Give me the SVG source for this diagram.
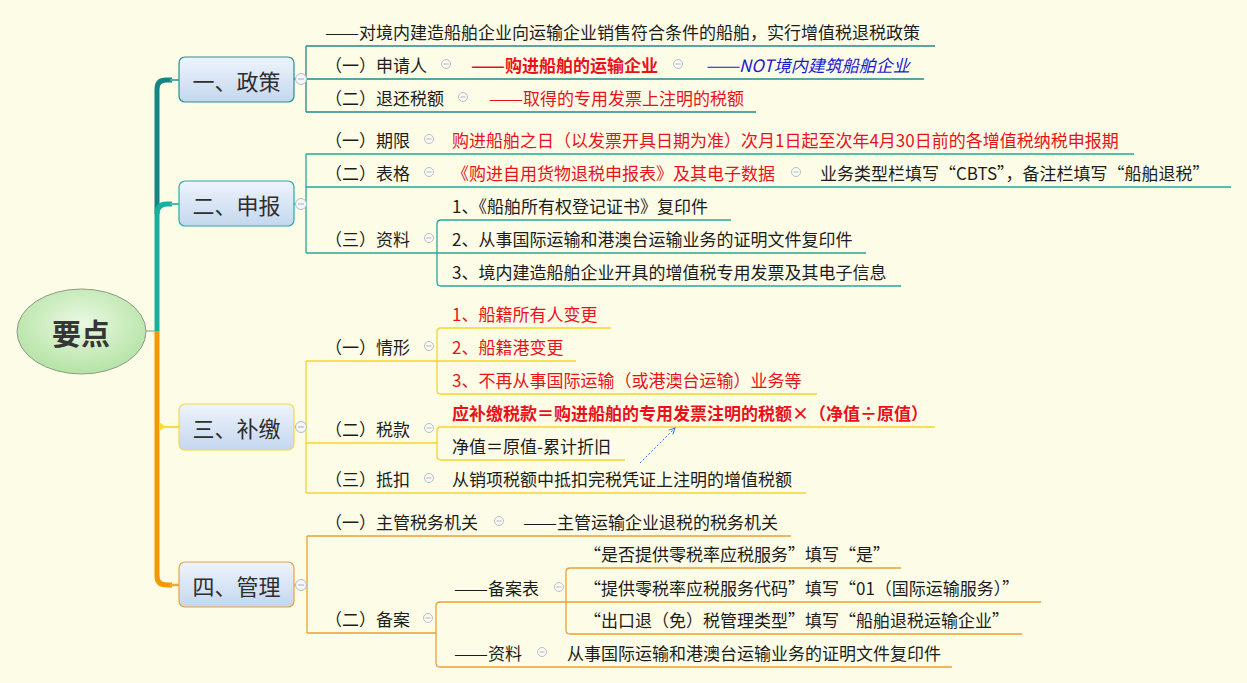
<svg xmlns="http://www.w3.org/2000/svg" width="1247" height="683" viewBox="0 0 1247 683">
<defs>
<linearGradient id="boxg" x1="0" y1="0" x2="0" y2="1"><stop offset="0" stop-color="#EEF4FC"/><stop offset="1" stop-color="#C4D7EE"/></linearGradient>
<radialGradient id="ellg" cx="0.5" cy="0.4" r="0.6"><stop offset="0" stop-color="#EAF9E2"/><stop offset="1" stop-color="#B4E3A4"/></radialGradient>
<marker id="arr" markerWidth="8" markerHeight="8" refX="7" refY="4" orient="auto" markerUnits="userSpaceOnUse"><path d="M1,1 L7,4 L1,7" fill="none" stroke="#3A6FC8" stroke-width="1"/></marker>
<style>
text{font-family:"Noto Sans CJK SC","Microsoft YaHei",sans-serif;font-size:17px;fill:#1c1c1c;dominant-baseline:central}
.bt{font-size:22px;fill:#2e2e2e;text-anchor:middle}
.red{fill:#E8121B}
.bred{fill:#E8121B;font-weight:bold}
.blue{fill:#1A1ACC;font-style:italic}
.c1{stroke:#23898B;fill:none;stroke-width:1.3}
.c2{stroke:#26A89C;fill:none;stroke-width:1.3}
.c3{stroke:#F5D431;fill:none;stroke-width:1.3}
.c4{stroke:#EBA035;fill:none;stroke-width:1.3}
</style>
<g id="m"><circle r="4.5" fill="#FBFBF0" stroke="#B9C0CB" stroke-width="1"/><path d="M-2.5,0H2.5" stroke="#B0B7C2" stroke-width="1"/></g>
<g id="mb"><circle r="5.5" fill="#F4F6FA" stroke="#B4BCC8" stroke-width="1"/><path d="M-3,0H3" stroke="#A9B1BE" stroke-width="1"/></g>
</defs>
<rect width="1247" height="683" fill="#FDFDE7"/>

<g id="connectors">
<line x1="146" y1="331" x2="157" y2="331" stroke="#8C948A" stroke-width="1"/>
<path d="M157,214 V89 Q157,80 166,80 H172" fill="none" stroke="#138583" stroke-width="5"/>
<line x1="170" y1="80" x2="179" y2="80" stroke="#4FAFAA" stroke-width="2"/>
<path d="M157,331 V214 Q157,204 167,204 H172" fill="none" stroke="#1AAE9F" stroke-width="5"/>
<line x1="170" y1="204" x2="179" y2="204" stroke="#3FC0B0" stroke-width="2"/>
<path d="M157,331 V576 Q157,585 167,585 H172" fill="none" stroke="#F39800" stroke-width="5"/>
<line x1="170" y1="585" x2="179" y2="585" stroke="#F0A83A" stroke-width="2.5"/>
<path d="M159,422 L166,427 L159,431 Z" fill="#F8DC3C"/>
<line x1="159" y1="427" x2="179" y2="427" stroke="#F8DC3C" stroke-width="2"/>

<path class="c1" d="M294,79 H306 M306,46 V112 M306,46 H935 M306,79 H924 M306,112 H756"/>
<path class="c2" d="M294,204 H306 M306,154 V253 M306,154 H1134 M306,187 H1231 M306,253 H437 M731,220 H441 Q437,220 437,224 V282 Q437,286 441,286 H901 M437,253 H866"/>
<path class="c3" d="M294,427 H306 M306,361 V493 M306,361 H437 M306,443 H437 M306,493 H806 M611,328 H441 Q437,328 437,332 V390 Q437,394 441,394 H817 M437,361 H576 M935,427 H441 Q437,427 437,431 V456 Q437,460 441,460 H625"/>
<path class="c4" d="M294,585 H307 M307,536 V633 M307,536 H791 M307,633 H436 M1041,602 H440 Q436,602 436,606 V663 Q436,667 440,667 H952 M901,568 H570 Q566,568 566,572 V630 Q566,634 570,634 H1022"/>
<line x1="640" y1="463" x2="675" y2="428" stroke="#3A6FC8" stroke-width="1" stroke-dasharray="2,2" marker-end="url(#arr)"/>
</g>

<g id="center">
<ellipse cx="81.5" cy="331.5" rx="64.5" ry="42.5" fill="url(#ellg)" stroke="#8C9A88" stroke-width="1"/>
<text x="81" y="332" style="font-size:29px;font-weight:bold;fill:#363636;text-anchor:middle">要点</text>
</g>

<g id="topic1">
<rect x="179" y="57" width="115" height="45" rx="6" fill="url(#boxg)" stroke="#2A8E8E" stroke-width="1.2"/>
<text class="bt" x="236.5" y="80">一、政策</text>
<use href="#mb" x="301" y="79"/>
</g>
<g id="t1-sub">
<text x="325" y="31" textLength="34" lengthAdjust="spacingAndGlyphs">——</text>
<text x="359" y="31">对境内建造船舶企业向运输企业销售符合条件的船舶，实行增值税退税政策</text>
<text x="325" y="64">（一）申请人</text>
<use href="#m" x="446" y="64"/>
<text class="bred" x="471" y="64" textLength="34" lengthAdjust="spacingAndGlyphs">——</text>
<text class="bred" x="505" y="64">购进船舶的运输企业</text>
<use href="#m" x="678" y="64"/>
<text class="blue" x="705" y="64" textLength="34" lengthAdjust="spacingAndGlyphs">——</text>
<text class="blue" x="739" y="64">NOT境内建筑船舶企业</text>
<text x="325" y="97">（二）退还税额</text>
<use href="#m" x="463" y="97"/>
<text class="red" x="489" y="97" textLength="34" lengthAdjust="spacingAndGlyphs">——</text>
<text class="red" x="523" y="97">取得的专用发票上注明的税额</text>
</g>

<g id="topic2">
<rect x="179" y="181" width="115" height="45" rx="6" fill="url(#boxg)" stroke="#22AFA0" stroke-width="1.2"/>
<text class="bt" x="236.5" y="204">二、申报</text>
<use href="#mb" x="301" y="204"/>
</g>
<g id="t2-sub">
<text x="325" y="139">（一）期限</text>
<use href="#m" x="429" y="139"/>
<text class="red" x="452" y="139">购进船舶之日（以发票开具日期为准）次月1日起至次年4月30日前的各增值税纳税申报期</text>
<text x="325" y="172">（二）表格</text>
<use href="#m" x="429" y="172"/>
<text class="red" x="452" y="172">《购进自用货物退税申报表》及其电子数据</text>
<use href="#m" x="796" y="172"/>
<text x="820" y="172">业务类型栏填写“CBTS”，备注栏填写“船舶退税”</text>
<text x="325" y="238">（三）资料</text>
<use href="#m" x="429" y="238"/>
<text x="452" y="205">1、《船舶所有权登记证书》复印件</text>
<text x="452" y="238">2、从事国际运输和港澳台运输业务的证明文件复印件</text>
<text x="452" y="271">3、境内建造船舶企业开具的增值税专用发票及其电子信息</text>
</g>

<g id="topic3">
<rect x="179" y="404" width="115" height="46" rx="6" fill="url(#boxg)" stroke="#F2DA4A" stroke-width="1.2"/>
<text class="bt" x="236.5" y="427">三、补缴</text>
<use href="#mb" x="301" y="427"/>
</g>
<g id="t3-sub">
<text x="325" y="346">（一）情形</text>
<use href="#m" x="429" y="346"/>
<text class="red" x="452" y="313">1、船籍所有人变更</text>
<text class="red" x="452" y="346">2、船籍港变更</text>
<text class="red" x="452" y="379">3、不再从事国际运输（或港澳台运输）业务等</text>
<text x="325" y="428">（二）税款</text>
<use href="#m" x="429" y="428"/>
<text class="bred" x="452" y="412">应补缴税款＝购进船舶的专用发票注明的税额×（净值÷原值）</text>
<text x="452" y="445">净值＝原值-累计折旧</text>
<text x="325" y="478">（三）抵扣</text>
<use href="#m" x="429" y="478"/>
<text x="452" y="478">从销项税额中抵扣完税凭证上注明的增值税额</text>
</g>

<g id="topic4">
<rect x="179" y="562" width="115" height="45" rx="6" fill="url(#boxg)" stroke="#E6A24A" stroke-width="1.2"/>
<text class="bt" x="236.5" y="585">四、管理</text>
<use href="#mb" x="301" y="585"/>
</g>
<g id="t4-sub">
<text x="325" y="521">（一）主管税务机关</text>
<use href="#m" x="499" y="521"/>
<text x="523" y="521" textLength="34" lengthAdjust="spacingAndGlyphs">——</text>
<text x="557" y="521">主管运输企业退税的税务机关</text>
<text x="325" y="618">（二）备案</text>
<use href="#m" x="428" y="618"/>
<text x="454" y="587" textLength="34" lengthAdjust="spacingAndGlyphs">——</text>
<text x="488" y="587">备案表</text>
<use href="#m" x="559" y="587"/>
<text x="584" y="553">“是否提供零税率应税服务”填写“是”</text>
<text x="584" y="587">“提供零税率应税服务代码”填写“01（国际运输服务）”</text>
<text x="584" y="619">“出口退（免）税管理类型”填写“船舶退税运输企业”</text>
<text x="454" y="652" textLength="34" lengthAdjust="spacingAndGlyphs">——</text>
<text x="488" y="652">资料</text>
<use href="#m" x="542" y="652"/>
<text x="567" y="652">从事国际运输和港澳台运输业务的证明文件复印件</text>
</g>
</svg>
